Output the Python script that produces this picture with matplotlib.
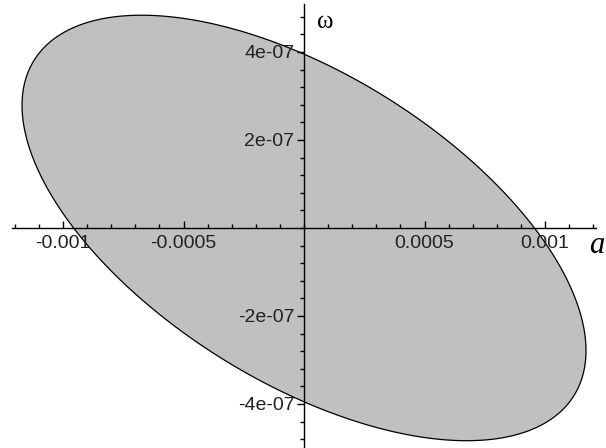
import numpy as np
import matplotlib.pyplot as plt
from matplotlib.ticker import FixedLocator, FixedFormatter, MultipleLocator

# ellipse read-outs: where it cuts the axes and how far it reaches
x_cross = 0.000956      # crossing of the a-axis
y_cross = 3.95e-07      # crossing of the omega-axis
x_reach = 0.00117       # widest extent along a

# axis ticks
x_ticks = [-0.001, -0.0005, 0.0005, 0.001]
x_labels = ['-0.001', '-0.0005', '0.0005', '0.001']
y_ticks = [-4e-07, -2e-07, 2e-07, 4e-07]
y_labels = ['-4e-07', '-2e-07', '2e-07', '4e-07']

# quadratic form in scaled units u = a/1e-3, v = w/4e-7 :  A u^2 + 2B u v + C v^2 = 1
su, sv = 0.001, 4e-07
A = (su / x_cross) ** 2
C = (sv / y_cross) ** 2
B = np.sqrt(A * C - C / (x_reach / su) ** 2)
M = np.array([[A, B], [B, C]])
L = np.linalg.cholesky(M)
t = np.linspace(0, 2 * np.pi, 400)
uv = np.linalg.solve(L.T, np.vstack([np.cos(t), np.sin(t)]))
xs = uv[0] * su
ys = uv[1] * sv

fig = plt.figure(figsize=(6.06, 4.48), dpi=100)
ax = fig.add_axes([0, 0, 1, 1])
ax.fill(xs, ys, color='#c0c0c0', ec='black', lw=0.9, zorder=1)

ax.set_xlim(-0.0012614, 0.001253)
ax.set_ylim(-5.0e-07, 5.18e-07)

for s in ['top', 'right']:
    ax.spines[s].set_visible(False)
ax.spines['left'].set_position(('data', 0))
ax.spines['bottom'].set_position(('data', 0))
ax.spines['bottom'].set_bounds(-0.00121, 0.00121)
ax.spines['left'].set_bounds(-5.0e-07, 5.1e-07)
for s in ['left', 'bottom']:
    ax.spines[s].set_linewidth(1.0)
    ax.spines[s].set_zorder(3)

ax.xaxis.set_major_locator(FixedLocator(x_ticks))
ax.xaxis.set_major_formatter(FixedFormatter(x_labels))
ax.yaxis.set_major_locator(FixedLocator(y_ticks))
ax.yaxis.set_major_formatter(FixedFormatter(y_labels))
ax.xaxis.set_minor_locator(MultipleLocator(0.0001))
ax.yaxis.set_minor_locator(MultipleLocator(4e-08))

ax.tick_params(axis='x', which='major', direction='in', length=5, width=1,
               pad=5, labelsize=14, colors='black')
ax.tick_params(axis='x', which='minor', direction='in', length=3, width=1)
ax.tick_params(axis='y', which='major', direction='out', length=5, width=1,
               pad=2, labelsize=14)
ax.tick_params(axis='y', which='minor', direction='out', length=3, width=1)
for lab in ax.get_xticklabels() + ax.get_yticklabels():
    lab.set_family('Liberation Sans')
    lab.set_color('#222222')

ax.text(0.001245, -0.4e-07, 'a', fontsize=22, family='Liberation Serif',
        style='italic', ha='right', va='center')
ax.text(0.0000880, 4.68e-07, '\u03c9', fontsize=18, family='Liberation Serif',
        ha='center', va='center')

fig.savefig('out.png', dpi=100)
